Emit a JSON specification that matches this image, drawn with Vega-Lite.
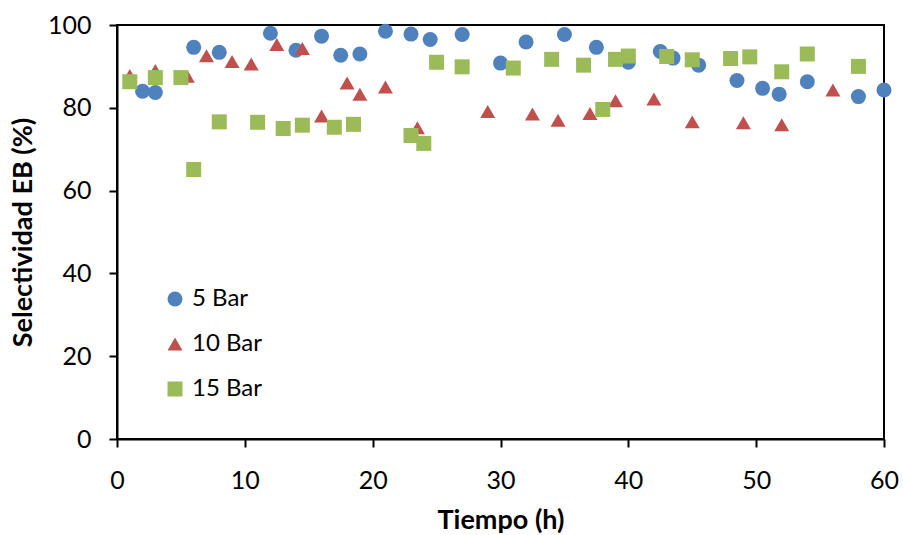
{
  "$schema": "https://vega.github.io/schema/vega-lite/v6.json",
  "autosize": "none",
  "width": 767,
  "height": 414,
  "padding": {"left": 117, "top": 25, "right": 19, "bottom": 96},
  "background": "white",
  "config": {
    "view": {"stroke": "black", "strokeWidth": 2},
    "font": "Lato"
  },
  "data": {
    "values": [
      {"t": 2, "s": 84.0, "serie": "5 Bar"},
      {"t": 3, "s": 83.7, "serie": "5 Bar"},
      {"t": 6, "s": 94.6, "serie": "5 Bar"},
      {"t": 8, "s": 93.4, "serie": "5 Bar"},
      {"t": 12, "s": 98.0, "serie": "5 Bar"},
      {"t": 14, "s": 93.9, "serie": "5 Bar"},
      {"t": 16, "s": 97.3, "serie": "5 Bar"},
      {"t": 17.5, "s": 92.7, "serie": "5 Bar"},
      {"t": 19, "s": 93.0, "serie": "5 Bar"},
      {"t": 21, "s": 98.5, "serie": "5 Bar"},
      {"t": 23, "s": 97.8, "serie": "5 Bar"},
      {"t": 24.5, "s": 96.5, "serie": "5 Bar"},
      {"t": 27, "s": 97.7, "serie": "5 Bar"},
      {"t": 30, "s": 90.8, "serie": "5 Bar"},
      {"t": 32, "s": 95.9, "serie": "5 Bar"},
      {"t": 35, "s": 97.7, "serie": "5 Bar"},
      {"t": 37.5, "s": 94.6, "serie": "5 Bar"},
      {"t": 40, "s": 91.0, "serie": "5 Bar"},
      {"t": 42.5, "s": 93.6, "serie": "5 Bar"},
      {"t": 43.5, "s": 92.0, "serie": "5 Bar"},
      {"t": 45.5, "s": 90.3, "serie": "5 Bar"},
      {"t": 48.5, "s": 86.6, "serie": "5 Bar"},
      {"t": 50.5, "s": 84.7, "serie": "5 Bar"},
      {"t": 51.8, "s": 83.3, "serie": "5 Bar"},
      {"t": 54, "s": 86.3, "serie": "5 Bar"},
      {"t": 58, "s": 82.7, "serie": "5 Bar"},
      {"t": 60, "s": 84.3, "serie": "5 Bar"},
      {"t": 1, "s": 87.8, "serie": "10 Bar"},
      {"t": 3, "s": 89.0, "serie": "10 Bar"},
      {"t": 5.5, "s": 87.6, "serie": "10 Bar"},
      {"t": 7, "s": 92.6, "serie": "10 Bar"},
      {"t": 9, "s": 91.2, "serie": "10 Bar"},
      {"t": 10.5, "s": 90.6, "serie": "10 Bar"},
      {"t": 12.5, "s": 95.3, "serie": "10 Bar"},
      {"t": 14.5, "s": 94.3, "serie": "10 Bar"},
      {"t": 16, "s": 78.0, "serie": "10 Bar"},
      {"t": 18, "s": 86.0, "serie": "10 Bar"},
      {"t": 19, "s": 83.3, "serie": "10 Bar"},
      {"t": 21, "s": 85.0, "serie": "10 Bar"},
      {"t": 23.5, "s": 75.2, "serie": "10 Bar"},
      {"t": 29, "s": 79.1, "serie": "10 Bar"},
      {"t": 32.5, "s": 78.5, "serie": "10 Bar"},
      {"t": 34.5, "s": 77.0, "serie": "10 Bar"},
      {"t": 37, "s": 78.6, "serie": "10 Bar"},
      {"t": 39, "s": 81.7, "serie": "10 Bar"},
      {"t": 42, "s": 82.1, "serie": "10 Bar"},
      {"t": 45, "s": 76.6, "serie": "10 Bar"},
      {"t": 49, "s": 76.4, "serie": "10 Bar"},
      {"t": 52, "s": 75.9, "serie": "10 Bar"},
      {"t": 56, "s": 84.3, "serie": "10 Bar"},
      {"t": 1, "s": 86.3, "serie": "15 Bar"},
      {"t": 3, "s": 87.3, "serie": "15 Bar"},
      {"t": 5, "s": 87.3, "serie": "15 Bar"},
      {"t": 6, "s": 65.1, "serie": "15 Bar"},
      {"t": 8, "s": 76.6, "serie": "15 Bar"},
      {"t": 11, "s": 76.5, "serie": "15 Bar"},
      {"t": 13, "s": 75.0, "serie": "15 Bar"},
      {"t": 14.5, "s": 75.8, "serie": "15 Bar"},
      {"t": 17, "s": 75.3, "serie": "15 Bar"},
      {"t": 18.5, "s": 76.0, "serie": "15 Bar"},
      {"t": 23, "s": 73.3, "serie": "15 Bar"},
      {"t": 24, "s": 71.4, "serie": "15 Bar"},
      {"t": 25, "s": 91.0, "serie": "15 Bar"},
      {"t": 27, "s": 89.9, "serie": "15 Bar"},
      {"t": 31, "s": 89.6, "serie": "15 Bar"},
      {"t": 34, "s": 91.7, "serie": "15 Bar"},
      {"t": 36.5, "s": 90.3, "serie": "15 Bar"},
      {"t": 38, "s": 79.6, "serie": "15 Bar"},
      {"t": 39, "s": 91.7, "serie": "15 Bar"},
      {"t": 40, "s": 92.5, "serie": "15 Bar"},
      {"t": 43, "s": 92.4, "serie": "15 Bar"},
      {"t": 45, "s": 91.6, "serie": "15 Bar"},
      {"t": 48, "s": 91.9, "serie": "15 Bar"},
      {"t": 49.5, "s": 92.3, "serie": "15 Bar"},
      {"t": 52, "s": 88.7, "serie": "15 Bar"},
      {"t": 54, "s": 93.0, "serie": "15 Bar"},
      {"t": 58, "s": 90.0, "serie": "15 Bar"}
    ]
  },
  "mark": {"type": "point", "filled": true, "opacity": 1, "size": 225},
  "encoding": {
    "x": {
      "field": "t", "type": "quantitative",
      "scale": {"domain": [0, 60], "nice": false, "zero": false},
      "axis": {
        "title": "Tiempo (h)", "values": [0, 10, 20, 30, 40, 50, 60],
        "grid": false, "domainColor": "black", "domainWidth": 2,
        "tickColor": "black", "tickWidth": 2, "tickSize": 8,
        "labelFont": "Lato", "labelFontSize": 25, "labelColor": "black", "labelPadding": 21,
        "labelFlush": false, "labelOverlap": false,
        "titleFont": "Lato", "titleFontSize": 27, "titleFontWeight": "bold", "titleColor": "black",
        "titleY": 89, "titleBaseline": "alphabetic"
      }
    },
    "y": {
      "field": "s", "type": "quantitative",
      "scale": {"domain": [0, 100], "nice": false, "zero": false},
      "axis": {
        "title": "Selectividad EB (%)", "values": [0, 20, 40, 60, 80, 100],
        "grid": false, "domainColor": "black", "domainWidth": 2,
        "tickColor": "black", "tickWidth": 2, "tickSize": 8,
        "labelFont": "Lato", "labelFontSize": 25, "labelColor": "black", "labelPadding": 18,
        "labelFlush": false, "labelOverlap": false,
        "titleFont": "Lato", "titleFontSize": 27, "titleFontWeight": "bold", "titleColor": "black",
        "titleX": -86, "titleY": 207, "titleBaseline": "alphabetic", "titleAngle": -90
      }
    },
    "color": {
      "field": "serie", "type": "nominal",
      "scale": {"domain": ["5 Bar", "10 Bar", "15 Bar"], "range": ["#4F81BD", "#C0504D", "#9BBB59"]},
      "legend": {
        "title": null, "orient": "none", "legendX": 46, "legendY": 262,
        "labelFont": "Lato", "labelFontSize": 24, "labelColor": "black",
        "symbolSize": 225, "labelOffset": 5, "rowPadding": 21, "padding": 0, "symbolOpacity": 1
      }
    },
    "shape": {
      "field": "serie", "type": "nominal",
      "scale": {"domain": ["5 Bar", "10 Bar", "15 Bar"], "range": ["circle", "triangle-up", "square"]},
      "legend": null
    }
  }
}
